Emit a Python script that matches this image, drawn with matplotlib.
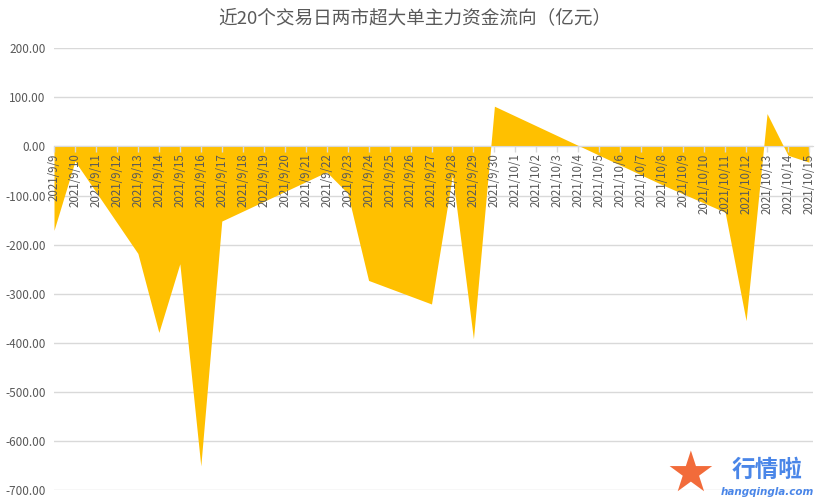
import matplotlib
matplotlib.use("Agg")
import matplotlib.pyplot as plt
import matplotlib.dates as mdates
import matplotlib.ticker as mticker
import pandas as pd

plt.rcParams['font.family'] = ['Noto Sans CJK SC', 'DejaVu Sans']

title = "近20个交易日两市超大单主力资金流向（亿元）"
trade_dates = ["2021-09-09", "2021-09-10", "2021-09-13", "2021-09-14", "2021-09-15",
               "2021-09-16", "2021-09-17", "2021-09-22", "2021-09-23", "2021-09-24",
               "2021-09-27", "2021-09-28", "2021-09-29", "2021-09-30", "2021-10-08",
               "2021-10-11", "2021-10-12", "2021-10-13", "2021-10-14", "2021-10-15"]
flow_values = [-171, -30, -218, -379, -239,
               -651, -152, -52, -95, -273,
               -321, -58, -392, 82, -78,
               -134, -355, 67, -18, -32]
y_ticks = [200, 100, 0, -100, -200, -300, -400, -500, -600, -700]

dates = pd.to_datetime(trade_dates)
xnum = mdates.date2num(dates.to_pydatetime())

fig = plt.figure(figsize=(8.29, 5.04), dpi=100)
ax = fig.add_axes([54/829, 1-490/504, 759/829, 441.7/504])

ax.fill_between(xnum, flow_values, 0, color='#FFC000', linewidth=0, zorder=1)

span = xnum[-1] - xnum[0]
ax.set_xlim(xnum[0], xnum[0] + span * 759/755)
ax.set_ylim(-700, 200)
ax.set_yticks(y_ticks)
ax.yaxis.set_major_formatter(mticker.FuncFormatter(lambda v, p: f"{v:.2f}"))

ax.xaxis.set_major_locator(mdates.DayLocator())
ax.xaxis.set_major_formatter(mticker.FuncFormatter(
    lambda v, p: (lambda d: f"{d.year}/{d.month}/{d.day}")(mdates.num2date(v))))

ax.set_axisbelow(True)
ax.xaxis.set_zorder(5)
ax.yaxis.grid(True, color='#d9d9d9', linewidth=1)
ax.spines['bottom'].set_position(('data', 0))
ax.spines['bottom'].set_color('#d9d9d9')
ax.spines['bottom'].set_zorder(4)
for s in ['left', 'top', 'right']:
    ax.spines[s].set_visible(False)

ax.tick_params(axis='x', direction='out', length=4, width=1, color='#d9d9d9',
               pad=1, labelsize=8.3, labelcolor='#595959', labelrotation=90)
ax.tick_params(axis='y', length=0, pad=6, labelsize=8.5, labelcolor='#595959')
for lbl in ax.get_xticklabels():
    lbl.set_va('top')

fig.text(0.5, 1-18/504, title, ha='center', va='center', fontsize=13.4, color='#595959')

# watermark
fig.text(690/829, 1-476/504, "★", ha='center', va='center', fontsize=40,
         color='#F26B3A', family='DejaVu Sans')
fig.text(767/829, 1-470/504, "行情啦", ha='center', va='center', fontsize=17,
         color='#4A86E8', fontweight='bold')
fig.text(767/829, 1-492/504, "hangqingla.com", ha='center', va='center', fontsize=7.5,
         color='#4A86E8', style='italic', fontweight='bold', family='DejaVu Sans')

fig.savefig("out.png", dpi=100)
